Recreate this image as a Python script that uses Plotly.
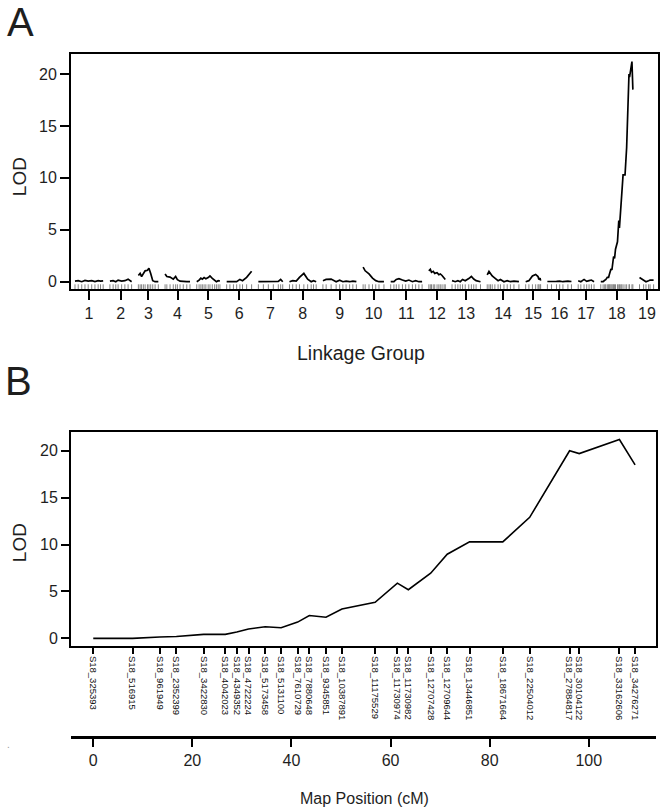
import plotly.graph_objects as go

# ---------------- Panel A data: genome-wide LOD scan ----------------
group_names = [str(i) for i in range(1, 20)]
group_lengths = [96, 74, 68, 85, 79, 85, 83, 91, 114, 71, 107, 56, 97, 108, 51, 82, 54, 109, 51]
GAP = 23

g01_pos = [0, 11, 23, 34, 45, 57, 68, 79, 87, 96]
g01_lod = [0.05, 0.1, 0.0, 0.12, 0.05, 0.1, 0.02, 0.1, 0.05, 0.08]
g02_pos = [0, 11, 20, 28, 40, 51, 62, 74]
g02_lod = [0.05, 0.1, 0.0, 0.15, 0.05, 0.1, 0.25, 0.0]
g03_pos = [0, 6, 11, 17, 23, 31, 36, 42, 49, 57, 68]
g03_lod = [0.6, 0.8, 0.5, 0.8, 1.05, 1.1, 1.3, 0.8, 0.1, 0.0, 0.0]
g04_pos = [0, 6, 17, 28, 36, 42, 51, 62, 74, 85]
g04_lod = [0.75, 0.5, 0.45, 0.25, 0.5, 0.2, 0.05, 0.0, 0.0, 0.0]
g05_pos = [0, 8, 14, 19, 25, 31, 39, 45, 53, 61, 67, 73, 79]
g05_lod = [0.0, 0.15, 0.35, 0.25, 0.4, 0.28, 0.4, 0.55, 0.33, 0.15, 0.0, 0.1, 0.07]
g06_pos = [0, 11, 23, 34, 45, 54, 68, 85]
g06_lod = [0.0, 0.0, 0.02, 0.0, 0.22, 0.1, 0.42, 1.0]
g07_pos = [0, 17, 34, 51, 68, 76, 83]
g07_lod = [0.0, 0.0, 0.02, 0.0, 0.02, 0.22, 0.0]
g08_pos = [0, 11, 23, 34, 49, 62, 74, 82, 91]
g08_lod = [0.0, 0.1, 0.06, 0.42, 0.8, 0.25, 0.0, 0.1, 0.0]
g09_pos = [0, 11, 28, 45, 57, 68, 79, 91, 102, 114]
g09_lod = [0.1, 0.22, 0.25, 0.0, 0.15, 0.0, 0.06, 0.0, 0.06, 0.0]
g10_pos = [0, 7, 20, 32, 43, 54, 71]
g10_lod = [1.4, 1.05, 0.75, 0.35, 0.1, 0.0, 0.0]
g11_pos = [0, 11, 19, 28, 40, 51, 62, 74, 85, 96, 107]
g11_lod = [0.0, 0.0, 0.22, 0.3, 0.16, 0.06, 0.16, 0.0, 0.1, 0.0, 0.0]
g12_pos = [0, 5, 9, 15, 20, 28, 34, 39, 45, 52, 56]
g12_lod = [1.05, 1.2, 0.9, 1.0, 0.8, 0.87, 0.68, 0.75, 0.6, 0.35, 0.22]
g13_pos = [0, 11, 20, 28, 36, 45, 57, 66, 74, 82, 97]
g13_lod = [0.1, 0.0, 0.1, 0.0, 0.22, 0.1, 0.3, 0.5, 0.26, 0.1, 0.0]
g14_pos = [0, 6, 11, 17, 26, 37, 45, 57, 68, 79, 91, 108]
g14_lod = [0.65, 1.0, 0.8, 0.55, 0.35, 0.1, 0.22, 0.0, 0.1, 0.0, 0.06, 0.0]
g15_pos = [0, 11, 23, 34, 42, 45, 49, 51]
g15_lod = [0.0, 0.1, 0.55, 0.7, 0.5, 0.22, 0.35, 0.1]
g16_pos = [0, 14, 31, 42, 53, 70, 82]
g16_lod = [0.02, 0.0, 0.03, 0.06, 0.0, 0.05, 0.02]
g17_pos = [0, 9, 20, 29, 37, 45, 54]
g17_lod = [0.1, 0.0, 0.22, 0.03, 0.1, 0.16, 0.0]
g19_pos = [0, 14, 22, 31, 36, 48]
g19_lod = [0.4, 0.1, 0.0, 0.1, 0.16, 0.16]

# ---------------- Panel B data: linkage group 18 ----------------
marker_names = ["S18_325393", "S18_516915", "S18_961949", "S18_2352399", "S18_3422830",
                "S18_4042023", "S18_4349352", "S18_4722224", "S18_5173458", "S18_5131100",
                "S18_7610729", "S18_7880648", "S18_9345851", "S18_10387891", "S18_11175529",
                "S18_11730974", "S18_11730982", "S18_12707428", "S18_12709644", "S18_13446851",
                "S18_18671664", "S18_22504012", "S18_27884817", "S18_30104122", "S18_33162606",
                "S18_34276271"]
marker_pos = [0, 7.93, 13.42, 16.78, 22.27, 26.64, 28.97, 31.33, 34.69, 37.91,
              41.25, 43.60, 46.96, 50.18, 56.88, 61.37, 63.58, 68.09, 71.43, 75.94,
              82.64, 88.07, 96.12, 98.07, 106.18, 109.34]
marker_lod = [0.0, 0.0, 0.14, 0.2, 0.42, 0.42, 0.67, 1.0, 1.23, 1.13,
              1.73, 2.43, 2.25, 3.13, 3.84, 5.88, 5.18, 6.94, 8.97, 10.28,
              10.28, 12.9, 20.0, 19.7, 21.2, 18.5]
map_ticks = [0, 20, 40, 60, 80, 100]

group_pos = [g01_pos, g02_pos, g03_pos, g04_pos, g05_pos, g06_pos, g07_pos, g08_pos, g09_pos,
             g10_pos, g11_pos, g12_pos, g13_pos, g14_pos, g15_pos, g16_pos, g17_pos,
             marker_pos, g19_pos]
group_lod = [g01_lod, g02_lod, g03_lod, g04_lod, g05_lod, g06_lod, g07_lod, g08_lod, g09_lod,
             g10_lod, g11_lod, g12_lod, g13_lod, g14_lod, g15_lod, g16_lod, g17_lod,
             marker_lod, g19_lod]

FONT = "Liberation Sans, Arial, Helvetica, sans-serif"
TXT = "#1e1e1e"

fig = go.Figure()

# Panel A curves and rug
offsets = []
off = 0
for L in group_lengths:
    offsets.append(off)
    off += L + GAP
centers = [o + L / 2 for o, L in zip(offsets, group_lengths)]

rug_x, rug_y = [], []
for o, P, V in zip(offsets, group_pos, group_lod):
    xs = [o + p for p in P]
    fig.add_trace(go.Scatter(x=xs, y=V, mode="lines", line=dict(color="black", width=1.7),
                             xaxis="x", yaxis="y", showlegend=False, hoverinfo="skip"))
    for x in xs:
        rug_x += [x, x, None]
        rug_y += [-0.73, -0.25, None]
fig.add_trace(go.Scatter(x=rug_x, y=rug_y, mode="lines", line=dict(color="#858585", width=1),
                         xaxis="x", yaxis="y", showlegend=False, hoverinfo="skip"))

# Panel B curve
fig.add_trace(go.Scatter(x=marker_pos, y=marker_lod, mode="lines",
                         line=dict(color="black", width=1.6),
                         xaxis="x2", yaxis="y2", showlegend=False, hoverinfo="skip"))
# carrier for the map-position axis
fig.add_trace(go.Scatter(x=[None], y=[None], mode="lines", xaxis="x3", yaxis="y2",
                         showlegend=False, hoverinfo="skip"))

axis_common = dict(showline=True, linecolor="black", linewidth=2, ticks="outside",
                   tickcolor="black", tickwidth=2, showgrid=False, zeroline=False,
                   tickfont=dict(family=FONT, size=16, color=TXT))

yA_dom = [0.6555, 1.0]
yB_dom = [0.1332, 0.447]
xB_dom = [0.0, 0.9966]

fig.update_layout(
    width=666, height=810,
    margin=dict(l=71, r=6, t=54, b=73),
    paper_bgcolor="white", plot_bgcolor="white",
    font=dict(family=FONT, color=TXT),
    xaxis=dict(axis_common, domain=[0, 1], anchor="y", range=[-13.6, 1987], mirror=True,
               tickvals=centers, ticktext=group_names, ticklen=9),
    yaxis=dict(axis_common, domain=yA_dom, anchor="x", range=[-0.73, 21.93], mirror=True,
               tickvals=[0, 5, 10, 15, 20], ticklen=9),
    xaxis2=dict(axis_common, domain=xB_dom, anchor="y2", range=[-4.49, 113.56], mirror=True,
                tickvals=marker_pos, ticktext=marker_names, tickangle=90, ticklen=6,
                tickwidth=1.5, tickfont=dict(family=FONT, size=9.5, color="#111111")),
    yaxis2=dict(axis_common, domain=yB_dom, anchor="x2", range=[-0.82, 22.03], mirror=True,
                tickvals=[0, 5, 10, 15, 20], ticklen=8),
    xaxis3=dict(axis_common, domain=xB_dom, overlaying="x2", anchor="free", position=0,
                range=[-4.49, 113.56], tickvals=map_ticks, ticklen=8, linewidth=2.7),
)

def pp(px):
    return (px - 71) / 589.0

def py(pyy):
    return (737 - pyy) / 683.0

annots = [
    dict(text="A", x=pp(20), y=py(22), font=dict(size=40)),
    dict(text="B", x=pp(18), y=py(381), font=dict(size=40)),
    dict(text="LOD", x=pp(19), y=py(177), textangle=-90, font=dict(size=19)),
    dict(text="LOD", x=pp(19), y=py(543), textangle=-90, font=dict(size=19)),
    dict(text="Linkage Group", x=pp(362), y=py(353), font=dict(size=19.5)),
    dict(text="Map Position (cM)", x=pp(365), y=py(798), font=dict(size=16)),
    dict(text=".", x=pp(8), y=py(744), font=dict(size=10, color="#999999")),
]
for a in annots:
    f = dict(family=FONT, color=TXT)
    f.update(a.pop("font"))
    fig.add_annotation(xref="paper", yref="paper", showarrow=False, xanchor="center",
                       yanchor="middle", font=f, **a)

fig.write_html("out.html", config={"displayModeBar": False},
               post_script="document.body.style.margin='0px';document.body.style.padding='0px';"
                           "document.body.style.overflow='hidden';")
